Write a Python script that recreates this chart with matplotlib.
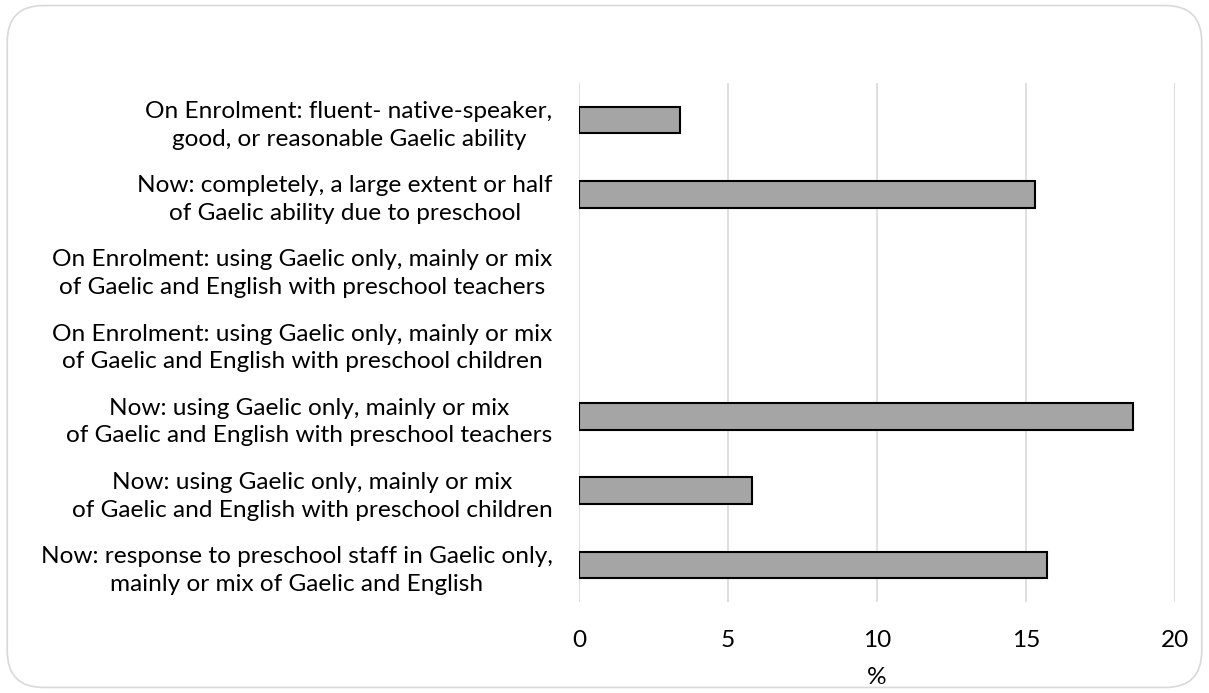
import matplotlib.pyplot as plt
from matplotlib.patches import FancyBboxPatch

categories = [
    'On Enrolment: fluent- native-speaker,\ngood, or reasonable Gaelic ability',
    'Now: completely, a large extent or half\nof Gaelic ability due to preschool',
    'On Enrolment: using Gaelic only, mainly or mix\nof Gaelic and English with preschool teachers',
    'On Enrolment: using Gaelic only, mainly or mix\nof Gaelic and English with preschool children',
    'Now: using Gaelic only, mainly or mix\nof Gaelic and English with preschool teachers',
    'Now: using Gaelic only, mainly or mix\nof Gaelic and English with preschool children',
    'Now: response to preschool staff in Gaelic only,\nmainly or mix of Gaelic and English',
]
values = [3.4, 15.3, 0, 0, 18.6, 5.8, 15.7]
xticks = [0, 5, 10, 15, 20]

plt.rcParams['font.family'] = ['Lato', 'DejaVu Sans']

fig = plt.figure(figsize=(12.09, 6.93), dpi=100)
# plot area: x 579..1175 px, y 83..602 px
ax = fig.add_axes([579 / 1209, 1 - 602 / 693, 596 / 1209, 519 / 693])

pos = list(range(len(categories)))
edges = ['black' if v > 0 else 'none' for v in values]
ax.barh(pos, values, height=0.36, color='#a5a5a5', edgecolor=edges, linewidth=1.5, zorder=3)
ax.set_ylim(len(categories) - 0.5, -0.5)
ax.set_yticks(pos)
ax.set_yticklabels(categories, fontsize=17.6, multialignment='center', linespacing=1.4)
ax.set_xlim(0, 20)
ax.set_xticks(xticks)
ax.tick_params(axis='x', labelsize=17.6, length=0, pad=20)
ax.tick_params(axis='y', length=0, pad=19)
ax.grid(axis='x', color='#d9d9d9', linewidth=1.2, zorder=0)
for s in ax.spines.values():
    s.set_visible(False)
ax.set_xlabel('%', fontsize=17.6, labelpad=12)

border = FancyBboxPatch((0.006, 0.008), 0.988, 0.984, boxstyle='round,pad=0,rounding_size=0.03',
                        transform=fig.transFigure, facecolor='none', edgecolor='#d9d9d9',
                        linewidth=1.2, mutation_aspect=1209 / 693)
fig.patches.append(border)

fig.savefig('out.png', dpi=100)
